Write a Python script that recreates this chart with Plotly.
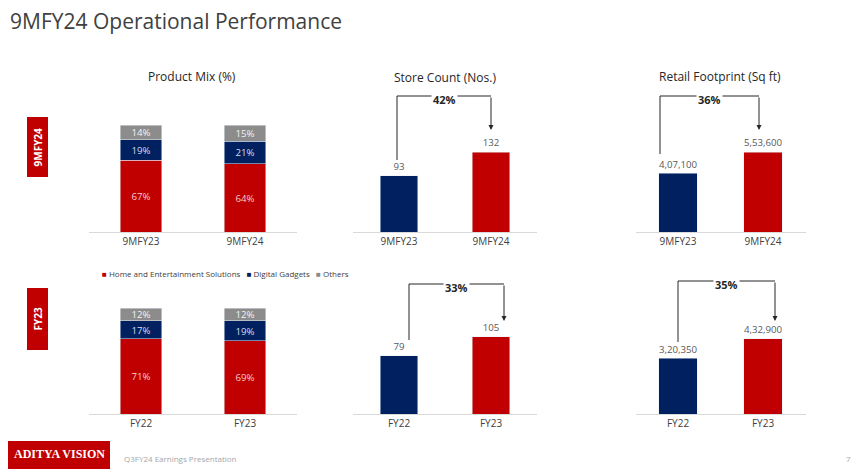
import plotly.graph_objects as go

W, H = 867, 469
OFF = 8  # page body margin
FW, FH = W - OFF, H - OFF
RED, NAVY, GRAY = "#C00000", "#002060", "#8C8C8C"

mix_top_cats = ["9MFY23", "9MFY24"]
mix_top_home = [67, 64]
mix_top_digital = [19, 21]
mix_top_others = [14, 15]
mix_bot_cats = ["FY22", "FY23"]
mix_bot_home = [71, 69]
mix_bot_digital = [17, 19]
mix_bot_others = [12, 12]

store_top_cats = ["9MFY23", "9MFY24"]
store_top_vals = [93, 132]
store_top_text = ["93", "132"]
store_bot_cats = ["FY22", "FY23"]
store_bot_vals = [79, 105]
store_bot_text = ["79", "105"]

retail_top_cats = ["9MFY23", "9MFY24"]
retail_top_vals = [407100, 553600]
retail_top_text = ["4,07,100", "5,53,600"]
retail_bot_cats = ["FY22", "FY23"]
retail_bot_vals = [320350, 432900]
retail_bot_text = ["3,20,350", "4,32,900"]

growth = ["42%", "36%", "33%", "35%"]
legend_names = ["Home and Entertainment Solutions", "Digital Gadgets", "Others"]

def px(x): return (x - OFF) / FW
def py(y): return 1 - (y - OFF) / FH
def dx(a, b): return [px(a), px(b)]
def dy(top, bot): return [py(bot), py(top)]

fig = go.Figure()
panels = [
    (1, dx(89, 297), dy(125, 232), [0, 100]),
    (2, dx(89, 297), dy(308, 414), [0, 100]),
    (3, dx(353, 537), dy(132, 232), [0, 165]),
    (4, dx(353, 537), dy(311, 414), [0, 140]),
    (5, dx(635.5, 805.5), dy(132, 232), [0, 692000]),
    (6, dx(635.5, 805.5), dy(310, 414), [0, 600000]),
]
lay = {}
for i, xd, yd, yr in panels:
    s = "" if i == 1 else str(i)
    lay["xaxis" + s] = dict(domain=xd, anchor="y" + s, range=[-0.5, 1.5], showgrid=False,
                            showline=True, linecolor="#D9D9D9", linewidth=1, ticks="",
                            tickfont=dict(size=10, color="#404040"), fixedrange=True)
    lay["yaxis" + s] = dict(domain=yd, anchor="x" + s, range=yr, visible=False, fixedrange=True)

def mix(cats, home, dig, oth, ax):
    xa, ya = "x" + ax, "y" + ax
    for name, vals, col, tc in [(legend_names[0], home, RED, "#F4CCCC"),
                               (legend_names[1], dig, NAVY, "#D9DDEE"),
                               (legend_names[2], oth, GRAY, "#F2F2F2")]:
        fig.add_trace(go.Bar(x=cats, y=vals, name=name, marker_color=col, width=0.4,
                             text=[f"{v}%" for v in vals], textposition="inside",
                             insidetextanchor="middle", textfont=dict(color=tc, size=10),
                             xaxis=xa, yaxis=ya, showlegend=False))

mix(mix_top_cats, mix_top_home, mix_top_digital, mix_top_others, "")
mix(mix_bot_cats, mix_bot_home, mix_bot_digital, mix_bot_others, "2")

def simple(cats, vals, txt, ax, w):
    fig.add_trace(go.Bar(x=cats, y=vals, marker_color=[NAVY, RED], width=w, text=txt,
                         textposition="outside", textfont=dict(color="#595959", size=11),
                         cliponaxis=False, xaxis="x" + ax, yaxis="y" + ax, showlegend=False))

simple(store_top_cats, store_top_vals, store_top_text, "3", 0.41)
simple(store_bot_cats, store_bot_vals, store_bot_text, "4", 0.41)
simple(retail_top_cats, retail_top_vals, retail_top_text, "5", 0.45)
simple(retail_bot_cats, retail_bot_vals, retail_bot_text, "6", 0.45)

shapes, ann = [], []
def A(**k):
    k.setdefault("xref", "paper"); k.setdefault("yref", "paper")
    k.setdefault("xanchor", "center"); k.setdefault("yanchor", "middle")
    k.setdefault("showarrow", False)
    ann.append(k)

def arrow(x1, y1, x2, y2, ytop, label):
    shapes.append(dict(type="line", xref="paper", yref="paper", x0=px(x1), y0=py(y1), x1=px(x1), y1=py(ytop), line=dict(color="#262626", width=1)))
    shapes.append(dict(type="line", xref="paper", yref="paper", x0=px(x1), y0=py(ytop), x1=px(x2), y1=py(ytop), line=dict(color="#262626", width=1)))
    ann.append(dict(xref="paper", yref="paper", x=px(x2), y=py(y2), ax=0, ay=ytop - y2,
                    showarrow=True, arrowhead=2, arrowsize=1, arrowwidth=1, arrowcolor="#262626", text=""))
    A(x=px((x1 + x2) / 2), y=py(ytop + 3), text=f"<b>{label}</b>", bgcolor="white", font=dict(size=11, color="#262626"))

arrow(397, 160, 491, 130, 96, growth[0])
arrow(660, 154, 759, 130, 96, growth[1])
arrow(409, 340, 504, 321, 284, growth[2])
arrow(678, 342, 775, 321, 281, growth[3])

for t, x, y in [("Product Mix (%)", 192, 76), ("Store Count (Nos.)", 445, 78), ("Retail Footprint (Sq ft)", 720, 76)]:
    A(x=px(x), y=py(y), text=t, font=dict(size=12, color="#262626"))

A(x=px(8), y=py(21), xanchor="left", text="9MFY24 Operational Performance", font=dict(size=21, color="#404040"))

leg = "   ".join(f"<span style='color:{c}'>■</span> {n}" for c, n in zip([RED, NAVY, GRAY], legend_names))
A(x=px(225), y=py(273), text=leg, font=dict(size=8, color="#404040"))

for t, y0, y1 in [("9MFY24", 117, 177), ("FY23", 288, 350)]:
    shapes.append(dict(type="rect", xref="paper", yref="paper", x0=px(27), x1=px(48), y0=py(y1), y1=py(y0), fillcolor=RED, line_width=0))
    A(x=px(37.5), y=py((y0 + y1) / 2), text=f"<b>{t}</b>", textangle=-90, font=dict(size=10, color="white"))
shapes.append(dict(type="rect", xref="paper", yref="paper", x0=px(8), x1=px(110), y0=py(469), y1=py(441), fillcolor=RED, line_width=0))
A(x=px(59), y=py(454), text="<b>ADITYA VISION</b>", font=dict(size=12, color="white", family="Liberation Serif"))
A(x=px(122), y=py(458), xanchor="left", text="Q3FY24 Earnings Presentation", font=dict(size=8, color="#A6A6A6"))
A(x=px(848), y=py(458), text="7", font=dict(size=8, color="#A6A6A6"))

fig.update_layout(width=FW, height=FH, margin=dict(l=0, r=0, t=0, b=0), paper_bgcolor="white", plot_bgcolor="white",
                  barmode="stack", font=dict(family="Open Sans"), shapes=shapes, annotations=ann, showlegend=False,
                  uniformtext=dict(minsize=9, mode="show"), **lay)
fig.write_html("out.html")
